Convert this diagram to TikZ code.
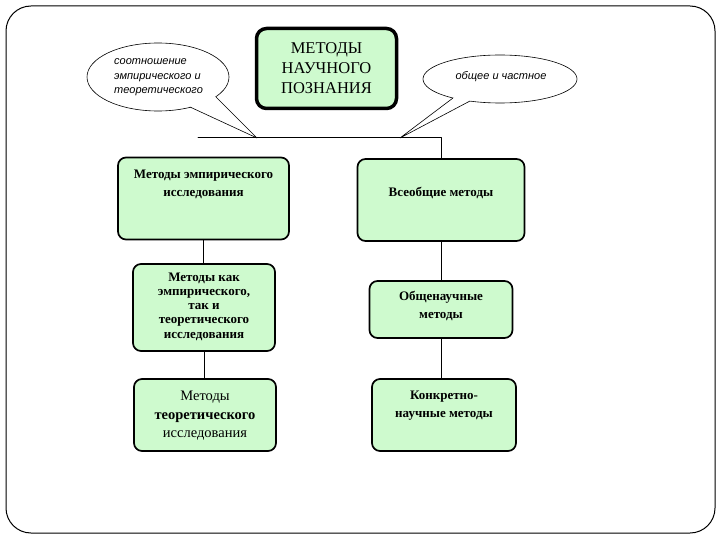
\documentclass[tikz,border=0pt]{standalone}
\usepackage{fontspec}
\setmainfont{Liberation Serif}
\setsansfont{Liberation Sans}
\usepackage{tikz}
\usetikzlibrary{calc,positioning}
\usepackage{xcolor}
\definecolor{boxgreen}{RGB}{206,250,206}
\tikzset{
  frame line/.style={line width=1pt,rounded corners=25pt},
  head box/.style={draw,line width=3.5pt,rounded corners=10pt,fill=boxgreen,inner sep=0pt},
  method box/.style={draw,line width=1.7pt,rounded corners=8pt,fill=boxgreen,inner sep=0pt},
  method label/.style={font=\bfseries\fontsize{13}{18}\selectfont,align=center,inner sep=1pt},
  link/.style={line width=1pt},
  bubble/.style={line width=.6pt},
  bubble text/.style={font=\sffamily\itshape\fontsize{11}{14.5}\selectfont,align=left,inner sep=0pt}
}

\begin{document}
\begin{tikzpicture}[x=1pt,y=-1pt,line cap=round,line join=round]
  \useasboundingbox (0,0) rectangle (720,540);
  \draw[frame line] (6,6) rectangle (715,533);

  % callouts
  \coordinate (lTip) at (257,138);
  \coordinate (lFoot1) at (190,107);
  \coordinate (lFoot2) at (216,97);
  \draw[bubble] (158,77) ellipse [x radius=71,y radius=34];
  \fill[white] (158,77) -- (lFoot1) -- (lTip) -- (lFoot2) -- cycle;
  \draw[bubble] (lFoot1) -- (lTip) -- (lFoot2);
  \node[bubble text,anchor=west] (relText) at (114,77.5) {соотношение\\эмпирического и\\теоретического};

  \coordinate (rTip) at (400,138);
  \coordinate (rFoot1) at (453,98);
  \coordinate (rFoot2) at (470,101);
  \draw[bubble] (500,79) ellipse [x radius=77,y radius=24];
  \fill[white] (500,79) -- (rFoot1) -- (rTip) -- (rFoot2) -- cycle;
  \draw[bubble] (rFoot1) -- (rTip) -- (rFoot2);
  \node[bubble text] (partText) at (501,77) {общее и частное};

  % head
  \node[head box,minimum width=140pt,minimum height=80pt] (head) at (326.5,68.5) {};
  \node[font=\fontsize{16.5}{20}\selectfont,align=center] (headText) at (head.center) {МЕТОДЫ\\НАУЧНОГО\\ПОЗНАНИЯ};

  % boxes
  \node[method box,minimum width=171pt,minimum height=82pt] (emp) at (203.5,198.5) {};
  \node[method box,minimum width=167pt,minimum height=82pt] (univ) at (441,200) {};
  \node[method box,minimum width=142pt,minimum height=87pt] (both) at (204,307.5) {};
  \node[method box,minimum width=143pt,minimum height=57pt] (gen) at (441,309.5) {};
  \node[method box,minimum width=142pt,minimum height=72pt] (theo) at (205,415) {};
  \node[method box,minimum width=144pt,minimum height=72pt] (conc) at (444,415) {};

  \node[method label] (empText) at (203.5,184) {Методы эмпирического\\исследования};
  \node[method label] (univText) at (441,193) {Всеобщие методы};
  \node[method label,font=\bfseries\fontsize{13}{14.3}\selectfont] (bothText) at (204,306.5) {Методы как\\эмпирического,\\так и\\теоретического\\исследования};
  \node[method label] (genText) at (441,306) {Общенаучные\\методы};
  \node[method label,font=\fontsize{14.5}{18.5}\selectfont] (theoText) at (205,416) {Методы\\\textbf{теоретического}\\исследования};
  \node[method label] (concText) at (444,405.5) {Конкретно-\\научные методы};

  % links
  \coordinate (busL) at (198,138);
  \coordinate (busR) at (441,138);
  \draw[link] (busL) -- (busR) -- (univ.north);
  \foreach \a/\b in {emp/both,both/theo,univ/gen,gen/conc} {\draw[link] (\a.south) -- (\a.south |- \b.north);}
\end{tikzpicture}
\end{document}
